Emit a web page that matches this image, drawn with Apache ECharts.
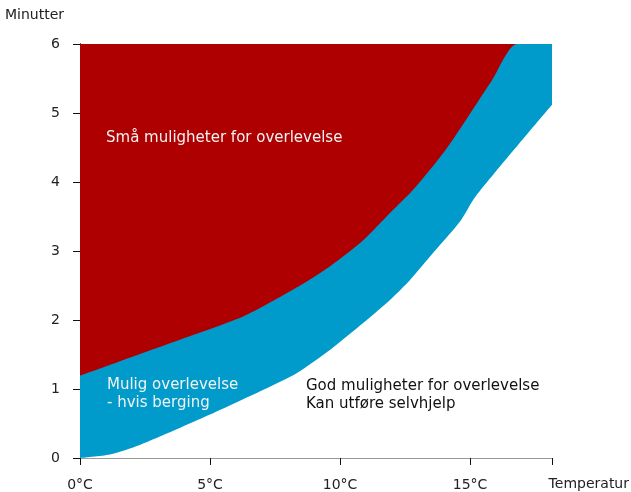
<!DOCTYPE html>
<html><head><meta charset="utf-8">
<script src="https://cdn.jsdelivr.net/npm/echarts@6/dist/echarts.min.js"></script>
<style>html,body{margin:0;padding:0;background:#fff}#c{width:631px;height:492px}</style>
</head><body><div id="c"></div>
<script>
const xTicks = [0, 5, 10, 15];
const yTicks = [0, 1, 2, 3, 4, 5, 6];
const xMax = 18.15;
const yMax = 6;
// Upper limit of "Mulig overlevelse" band (border to red region)
const upperBoundary = [[0,1.19],[3.0,1.6],[6.14,2.03],[7.05,2.2],[8.33,2.47],[9.62,2.78],[10.9,3.16],[11.92,3.55],[12.82,3.89],[14.07,4.47],[15.85,5.48],[16.81,6.0],[18.15,6.0]];
// Lower limit (border to white region)
const lowerBoundary = [[0,0],[1.15,0.05],[2.3,0.19],[3.07,0.31],[5.0,0.63],[7.05,0.99],[8.33,1.23],[9.62,1.57],[10.9,1.96],[11.92,2.29],[12.69,2.58],[13.46,2.92],[14.62,3.43],[15.21,3.79],[18.15,5.12]];
const fullArea = [[0,6],[18.15,6]];

const font = '"DejaVu Sans", sans-serif';
const chart = echarts.init(document.getElementById('c'));
chart.setOption({
  animation:false,
  grid:{left:80,right:79,top:44,bottom:34},
  xAxis:[{type:'value',min:0,max:xMax,interval:5,
    axisLine:{lineStyle:{color:'#111',width:1}},
    axisTick:{show:true,length:7,lineStyle:{color:'#111'}},
    splitLine:{show:false},
    axisLabel:{margin:20,fontSize:14,color:'#222',fontFamily:font,
      formatter:v=>xTicks.includes(v)?v+'°C':''}},
    {type:'value',position:'top',min:0,max:xMax,axisLine:{show:true,lineStyle:{color:'#999'}},axisTick:{show:false},axisLabel:{show:false},splitLine:{show:false}}],
  yAxis:[{type:'value',min:0,max:yMax,interval:1,
    axisLine:{show:true,lineStyle:{color:'#111'}},
    axisTick:{show:true,length:7,lineStyle:{color:'#111'}},
    splitLine:{show:false},
    axisLabel:{margin:20,fontSize:14,color:'#222',fontFamily:font,
      formatter:v=>yTicks.includes(v)?String(v):''}},
    {type:'value',position:'right',min:0,max:yMax,axisLine:{show:true,lineStyle:{color:'#111'}},axisTick:{show:false},axisLabel:{show:false},splitLine:{show:false}}],
  series:[
    {type:'line',data:fullArea,symbol:'none',lineStyle:{width:0},areaStyle:{color:'#ae0000',opacity:1},z:1},
    {type:'line',data:upperBoundary,symbol:'none',smooth:0.25,lineStyle:{width:0},areaStyle:{color:'#009bcb',opacity:1},z:2},
    {type:'line',data:lowerBoundary,symbol:'none',smooth:0.25,lineStyle:{width:0},areaStyle:{color:'#ffffff',opacity:1},z:3}
  ],
  graphic:[
    {type:'text',left:5,top:8,style:{text:'Minutter',fill:'#222',font:'14px '+font}},
    {type:'text',right:2,top:477,style:{text:'Temperatur',fill:'#222',font:'14px '+font}},
    {type:'text',left:106,top:131,z:10,style:{text:'Små muligheter for overlevelse',fill:'#f2f2f2',font:'15px '+font}},
    {type:'text',left:107,top:376,z:10,style:{text:'Mulig overlevelse\n- hvis berging',fill:'#f2f2f2',font:'15px '+font,lineHeight:18}},
    {type:'text',left:306,top:377,z:10,style:{text:'God muligheter for overlevelse\nKan utføre selvhjelp',fill:'#111',font:'15px '+font,lineHeight:18}}
  ]
});
</script></body></html>
